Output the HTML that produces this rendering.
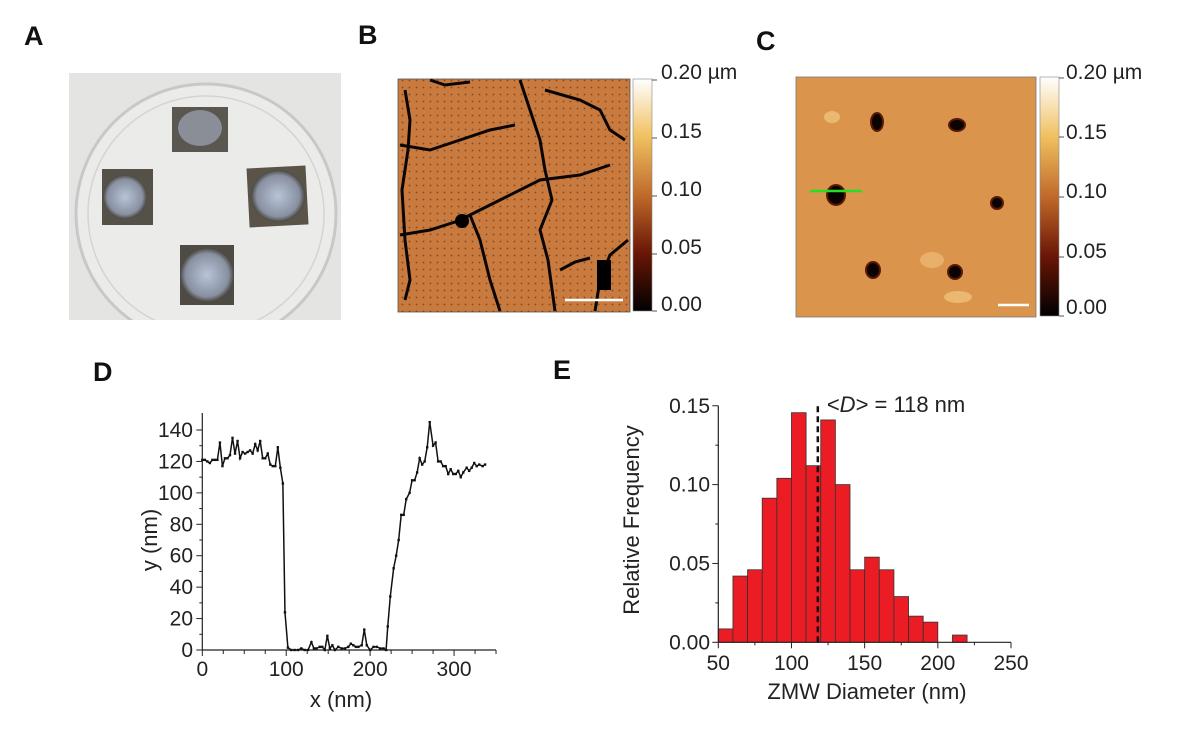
<!DOCTYPE html>
<html><head><meta charset="utf-8"><style>
body{margin:0;background:#fff;width:1200px;height:744px;overflow:hidden;font-family:"Liberation Sans",sans-serif}
svg{position:absolute;left:0;top:0}
</style></head><body>
<svg width="1200" height="744" viewBox="0 0 1200 744">
<defs>
<linearGradient id="cb" x1="0" y1="1" x2="0" y2="0">
<stop offset="0" stop-color="#000"/><stop offset="0.25" stop-color="#6a1606"/>
<stop offset="0.5" stop-color="#c06a2a"/><stop offset="0.75" stop-color="#f0c060"/>
<stop offset="1" stop-color="#fff"/></linearGradient>
<radialGradient id="wafer" cx="0.5" cy="0.5" r="0.5"><stop offset="0" stop-color="#b8c4d8"/><stop offset="0.8" stop-color="#8890a0"/><stop offset="1" stop-color="#4a4842"/></radialGradient>
<clipPath id="clipA"><rect x="69" y="73" width="272" height="247"/></clipPath>
<pattern id="dots" width="7" height="7" patternUnits="userSpaceOnUse"><circle cx="3.5" cy="3.5" r="0.9" fill="#6a3010"/></pattern>
</defs>
<g font-weight="bold" font-size="27" fill="#111">
<text x="24" y="45">A</text>
<text x="358" y="44">B</text>
<text x="756" y="50">C</text>
<text x="93" y="381">D</text>
<text x="553" y="379">E</text>
</g>
<g clip-path="url(#clipA)">
<rect x="69" y="73" width="272" height="247" fill="#e4e4e2"/>
<circle cx="206" cy="214" r="130" fill="#ebebea" stroke="#c8c8c8" stroke-width="3"/>
<circle cx="206" cy="214" r="118" fill="none" stroke="#d4d4d4" stroke-width="1.5"/>
<rect x="172" y="107" width="56" height="45" fill="#5a5650"/>
<ellipse cx="200" cy="128" rx="22" ry="18" fill="#8a8e96"/>
<rect x="102" y="169" width="51" height="56" fill="#555048"/>
<ellipse cx="125" cy="197" rx="22" ry="22" fill="url(#wafer)"/>
<rect x="248" y="167" width="59" height="59" fill="#5a5448" transform="rotate(-3 277 196)"/>
<ellipse cx="278" cy="196" rx="27" ry="26" fill="url(#wafer)"/>
<rect x="180" y="245" width="54" height="60" fill="#4e4a44"/>
<ellipse cx="207" cy="275" rx="27" ry="27" fill="url(#wafer)"/>
</g>
<g>
<rect x="398" y="79" width="232" height="233" fill="#c97a3e" stroke="#555" stroke-width="0.8"/>
<rect x="398" y="79" width="232" height="233" fill="url(#dots)" opacity="0.7"/>
<g stroke="#0a0604" stroke-width="3" fill="none">
<path d="M520 80 L530 110 L540 140 L545 170 L552 200 L540 230 L548 260 L555 311"/>
<path d="M400 145 L430 150 L460 140 L490 130 L515 125"/>
<path d="M470 215 L500 200 L540 180 L580 175 L610 165"/>
<path d="M400 235 L430 230 L455 222 L470 215 L480 240 L490 280 L500 311"/>
<path d="M545 90 L580 100 L600 110 L610 130 L625 140"/>
<path d="M405 90 L410 120 L408 150 L402 190 L405 240 L410 280 L405 300"/>
<path d="M595 311 L600 280 L610 255 L628 240"/>
<path d="M430 80 L445 85 L470 82"/>
<path d="M560 270 L575 262 L590 258"/>
</g>
<circle cx="462" cy="221" r="7" fill="#000"/>
<rect x="597" y="260" width="14" height="30" fill="#000"/>
<line x1="565" y1="300" x2="623" y2="300" stroke="#fff" stroke-width="2.5"/>
</g>
<g>
<rect x="633" y="79" width="19" height="232" fill="url(#cb)" stroke="#888" stroke-width="0.6"/>
<g stroke="#555" stroke-width="1"><line x1="652" y1="80" x2="657" y2="80"/><line x1="652" y1="138" x2="657" y2="138"/><line x1="652" y1="196" x2="657" y2="196"/><line x1="652" y1="254" x2="657" y2="254"/><line x1="652" y1="311" x2="657" y2="311"/></g>
<g font-size="21" fill="#222"><text x="661" y="79">0.20 µm</text><text x="661" y="138">0.15</text><text x="661" y="196">0.10</text><text x="661" y="254">0.05</text><text x="661" y="311">0.00</text></g>
</g>
<g>
<rect x="796" y="77" width="240" height="240" fill="#da944c" stroke="#777" stroke-width="0.8"/>
<ellipse cx="832" cy="117" rx="8" ry="6" fill="#eab870"/>
<ellipse cx="932" cy="260" rx="12" ry="8" fill="#e8b06a"/>
<ellipse cx="958" cy="297" rx="14" ry="6" fill="#eab870"/>
<g fill="#0a0302" stroke="#5a1a06" stroke-width="2">
<ellipse cx="877" cy="122" rx="6" ry="9"/><ellipse cx="957" cy="125" rx="8" ry="6"/>
<ellipse cx="836" cy="195" rx="9" ry="10"/><ellipse cx="997" cy="203" rx="6" ry="6"/>
<ellipse cx="873" cy="270" rx="7" ry="8"/><ellipse cx="955" cy="272" rx="7" ry="7"/>
</g>
<line x1="810" y1="191" x2="862" y2="191" stroke="#22e022" stroke-width="2.5"/>
<line x1="998" y1="305" x2="1029" y2="305" stroke="#fff" stroke-width="2.5"/>
</g>
<g>
<rect x="1040" y="77" width="19" height="239" fill="url(#cb)" stroke="#888" stroke-width="0.6"/>
<g stroke="#555" stroke-width="1"><line x1="1059" y1="78" x2="1064" y2="78"/><line x1="1059" y1="137" x2="1064" y2="137"/><line x1="1059" y1="197" x2="1064" y2="197"/><line x1="1059" y1="257" x2="1064" y2="257"/><line x1="1059" y1="316" x2="1064" y2="316"/></g>
<g font-size="21" fill="#222"><text x="1066" y="79">0.20 µm</text><text x="1066" y="139">0.15</text><text x="1066" y="198">0.10</text><text x="1066" y="258">0.05</text><text x="1066" y="314">0.00</text></g>
</g>
<g id="chartD"></g>
<g id="chartE"></g>
</svg>
<script>
const profileX = [0,3,6,9,12,15,18,21,24,27,30,33,36,39,42,45,48,51,54,57,60,63,66,69,72,75,78,81,84,87,90,93,96,98.5,102,106,110,114,118,122,126,130,133,136,140,143,146,149,152,155,158,162,166,170,174,177,180,183,186,190,193,196,200,204,208,212,216,219,221,224,228,231,234,237,240,243,247,250,253,256,259,262,265,268,271,275,278,281,284,287,290,293,296,299,302,305,308,311,315,318,321,324,327,330,334,337];
const profileY = [121,121,120,119,121,121,121,132,117,122,122,124,135,125,133,122,126,125,126,127,125,131,127,133,122,122,125,118,117,117,129,116,106,24,1.5,0,0,0,1,0,0,5,1,1,2,2,0,9,1,3,0,2,1,1,2,4,3,2,2,3,13,3,0,2,2,1,1,0,15,34,52,60,70,86,86,96,100,108,108,113,122,118,120,129,145,130,132,120,120,117,117,112,115,112,112,114,110,113,116,114,116,119,117,118,117,118];
const dXTicks = [0,100,200,300];
const dYTicks = [0,20,40,60,80,100,120,140];
const binStarts = [50,60,70,80,90,100,110,120,130,140,150,160,170,180,190,200,210];
const binFreq = [0.0085,0.042,0.046,0.0914,0.104,0.1456,0.112,0.141,0.100,0.046,0.054,0.046,0.029,0.0166,0.0128,0,0.0046];
const meanD = 118;
const eXTicks = [50,100,150,200,250];
const eYTicks = [0.00,0.05,0.10,0.15];
const NS='http://www.w3.org/2000/svg';
function mk(p,t,a){const e=document.createElementNS(NS,t);for(const k in a)e.setAttribute(k,a[k]);p.appendChild(e);return e;}
const gD=document.getElementById('chartD');
const dx=v=>202.3+v*0.8392, dy=v=>650-v*1.5714;
let ax=mk(gD,'path',{d:`M${dx(0)} ${dy(0)} H${dx(350)} M${dx(0)} ${dy(0)} V413`,stroke:'#222','stroke-width':1.2,fill:'none'});


for(let v=0;v<=350;v+=25){mk(gD,'line',{x1:dx(v),x2:dx(v),y1:dy(0),y2:dy(0)+(v%100==0?6:4),stroke:'#222'});}
for(let v=0;v<=140;v+=10){mk(gD,'line',{x1:dx(0),x2:dx(0)-(v%20==0?6:3),y1:dy(v),y2:dy(v),stroke:'#222'});}
dXTicks.forEach(v=>{const t=mk(gD,'text',{x:dx(v),y:676,'text-anchor':'middle','font-size':21,fill:'#222'});t.textContent=v;

});
dYTicks.forEach(v=>{const t=mk(gD,'text',{x:193,y:dy(v)+7,'text-anchor':'end','font-size':21,fill:'#222'});t.textContent=v;

});
let tt=mk(gD,'text',{x:341,y:707,'text-anchor':'middle','font-size':22,fill:'#222'});tt.textContent='x (nm)';


tt=mk(gD,'text',{x:0,y:0,'text-anchor':'middle','font-size':22,fill:'#222',transform:'translate(157 540) rotate(-90)'});tt.textContent='y (nm)';


const line=mk(gD,'polyline',{points:profileX.map((x,i)=>dx(x)+','+dy(profileY[i])).join(' '),fill:'none',stroke:'#111','stroke-width':1.5});


profileX.forEach((x,i)=>{const r=mk(gD,'rect',{x:dx(x)-1.2,y:dy(profileY[i])-1.2,width:2.4,height:2.4,fill:'#111'});

});
const gE=document.getElementById('chartE');
const ex=v=>718.3+(v-50)*1.4635, ey=v=>642.3-v*1577;
binStarts.forEach((b,i)=>{if(binFreq[i]<=0)return;const r=mk(gE,'rect',{x:ex(b),y:ey(binFreq[i]),width:ex(b+10)-ex(b),height:ey(0)-ey(binFreq[i]),fill:'#ec1c24',stroke:'#333','stroke-width':0.8});

});
ax=mk(gE,'path',{d:`M${ex(50)} ${ey(0)} H${ex(250)} M${ex(50)} ${ey(0)} V${ey(0.15)}`,stroke:'#222','stroke-width':1.2,fill:'none'});


for(let v=50;v<=250;v+=25){mk(gE,'line',{x1:ex(v),x2:ex(v),y1:ey(0),y2:ey(0)+(v%50==0?6:3),stroke:'#222'});}
for(let k=0;k<=6;k++){const v=k*0.025;mk(gE,'line',{x1:ex(50),x2:ex(50)-(k%2==0?6:3),y1:ey(v),y2:ey(v),stroke:'#222'});}
eXTicks.forEach(v=>{const t=mk(gE,'text',{x:ex(v),y:670,'text-anchor':'middle','font-size':21,fill:'#222'});t.textContent=v;

});
eYTicks.forEach(v=>{const t=mk(gE,'text',{x:710,y:ey(v)+7,'text-anchor':'end','font-size':21,fill:'#222'});t.textContent=v.toFixed(2);

});
const ml=mk(gE,'line',{x1:ex(meanD),x2:ex(meanD),y1:ey(0),y2:ey(0.15),stroke:'#111','stroke-width':2.5,'stroke-dasharray':'6 4'});


tt=mk(gE,'text',{x:ex(meanD)+9,y:412,'font-size':22,fill:'#222'});tt.innerHTML='&lt;<tspan font-style="italic">D</tspan>&gt; = 118 nm';


tt=mk(gE,'text',{x:867,y:699,'text-anchor':'middle','font-size':22,fill:'#222'});tt.textContent='ZMW Diameter (nm)';


tt=mk(gE,'text',{x:0,y:0,'text-anchor':'middle','font-size':22,fill:'#222',transform:'translate(639 520) rotate(-90)'});tt.textContent='Relative Frequency';


</script>
</body></html>
